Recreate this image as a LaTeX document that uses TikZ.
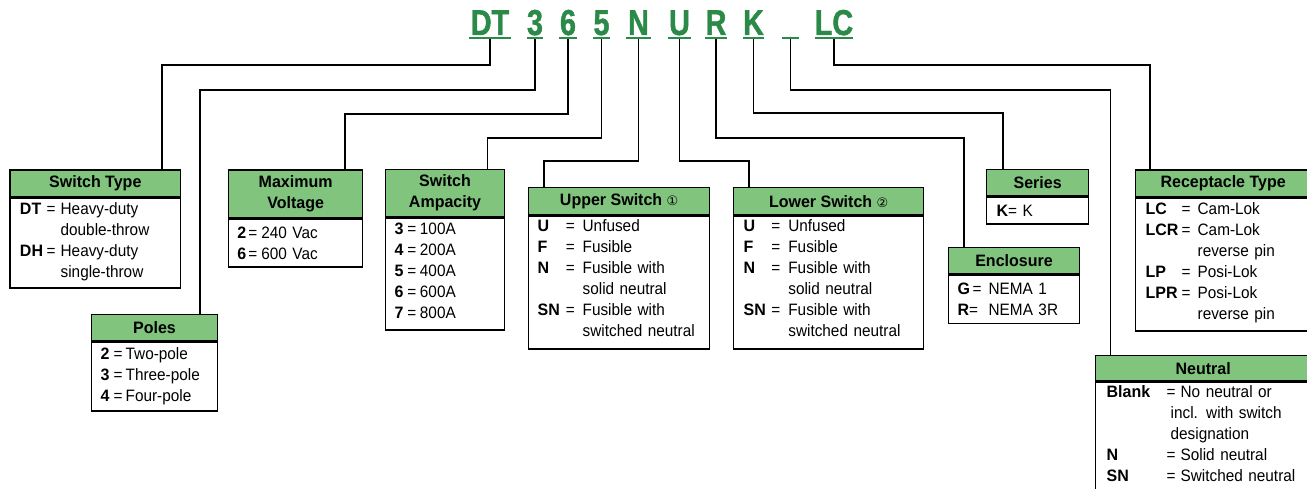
\documentclass[tikz,border=0pt]{standalone}
\usepackage{fontspec}
\setmainfont{Liberation Sans}[FakeStretch=0.93, BoldFeatures={FakeStretch=0.97}]
\newfontfamily\codef{Liberation Sans}[FakeStretch=0.8, FakeBold=1.2]
\newfontfamily\symf{DejaVu Sans}
\definecolor{codegreen}{HTML}{2B8A47}
\definecolor{hdrgreen}{HTML}{80C47E}
\newcommand\krow[3]{\makebox[#1][l]{\bfseries #3}\makebox[#2][l]{=}}
\begin{document}
\begin{tikzpicture}[x=1pt,y=-1pt,
  code/.style={font=\codef\bfseries\fontsize{36}{36}\selectfont, text=codegreen,
    inner xsep=0pt, inner ysep=3pt, text height=26pt, text depth=0pt, anchor=base},
  uline/.style={draw=codegreen, line width=2pt},
  conn/.style={draw=black, line width=1.8pt},
  hdr/.style={draw=black, line width=1.3pt, fill=hdrgreen, anchor=north west,
    inner sep=0pt, align=center, font=\bfseries\fontsize{16.5}{21}\selectfont},
  bod/.style={draw=black, line width=1.3pt, anchor=north west, inner ysep=0pt,
    align=left, font=\fontsize{16.5}{21}\selectfont},
]
\useasboundingbox (0,0) rectangle (1307,489);
\clip (0,0) rectangle (1307,489);

% code letters
\node[code, minimum width=42pt] (cDT) at (490,35) {DT};
\node[code, minimum width=16pt] (c3) at (535,35) {3};
\node[code, minimum width=18pt] (c6) at (568,35) {6};
\node[code, minimum width=17pt] (c5) at (601.5,35) {5};
\node[code, minimum width=25pt] (cN) at (638.5,35) {N};
\node[code, minimum width=23pt] (cU) at (679.5,35) {U};
\node[code, minimum width=18pt] (cR) at (716,35) {R};
\node[code, minimum width=19pt] (cK) at (753.5,35) {K};
\node[code, minimum width=17pt] (cB) at (790.5,35) {};
\node[code, minimum width=38pt] (cLC) at (834,35) {LC};

% boxes
\node[hdr, minimum width=170.7pt, minimum height=26.7pt] (stype) at (9.3,169.3) {Switch Type};
\node[bod, minimum width=170.7pt, minimum height=90pt, text width=150.7pt, inner xsep=10pt] (stypeB) at (stype.south west)
 {\krow{26.7pt}{14pt}{DT}Heavy-duty\\\hspace*{40.7pt}double-throw\\\krow{26.7pt}{14pt}{DH}Heavy-duty\\\hspace*{40.7pt}single-throw\strut};

\node[hdr, minimum width=134pt, minimum height=47.7pt] (maxv) at (228,169.3) {Maximum\\Voltage};
\node[bod, minimum width=134pt, minimum height=48pt, text width=116.6pt, inner xsep=8.7pt] (maxvB) at (maxv.south west)
 {\krow{11pt}{13pt}{2}240 Vac\\\krow{11pt}{13pt}{6}600 Vac};

\node[hdr, minimum width=126.3pt, minimum height=26.3pt] (poles) at (90.7,313.7) {Poles};
\node[bod, minimum width=126.3pt, minimum height=69pt, text width=107.7pt, inner xsep=9.3pt] (polesB) at (poles.south west)
 {\krow{13pt}{12pt}{2}Two-pole\\\krow{13pt}{12pt}{3}Three-pole\\\krow{13pt}{12pt}{4}Four-pole};

\node[hdr, minimum width=118.7pt, minimum height=47pt] (amp) at (385,169) {Switch\\Ampacity};
\node[bod, minimum width=118.7pt, minimum height=112pt, text width=100.7pt, inner xsep=9pt] (ampB) at (amp.south west)
 {\krow{12.7pt}{12.6pt}{3}100A\\\krow{12.7pt}{12.6pt}{4}200A\\\krow{12.7pt}{12.6pt}{5}400A\\\krow{12.7pt}{12.6pt}{6}600A\\\krow{12.7pt}{12.6pt}{7}800A\strut};

\node[hdr, minimum width=181pt, minimum height=27.3pt] (upper) at (528,186.7) {Upper Switch {\symf\mdseries\fontsize{13}{13}\selectfont ①}};
\node[bod, minimum width=181pt, minimum height=133pt, text width=163pt, inner xsep=9pt] (upperB) at (upper.south west)
 {\krow{28.3pt}{16.7pt}{U}Unfused\\\krow{28.3pt}{16.7pt}{F}Fusible\\\krow{28.3pt}{16.7pt}{N}Fusible with\\\hspace*{45pt}solid neutral\\\krow{28.3pt}{16.7pt}{SN}Fusible with\\\hspace*{45pt}switched neutral\rule[-9pt]{0pt}{9pt}};

\node[hdr, minimum width=190pt, minimum height=27pt] (lower) at (733,187) {Lower Switch {\symf\mdseries\fontsize{13}{13}\selectfont ②}};
\node[bod, minimum width=190pt, minimum height=133pt, text width=170pt, inner xsep=10pt] (lowerB) at (lower.south west)
 {\krow{27.7pt}{17pt}{U}Unfused\\\krow{27.7pt}{17pt}{F}Fusible\\\krow{27.7pt}{17pt}{N}Fusible with\\\hspace*{44.7pt}solid neutral\\\krow{27.7pt}{17pt}{SN}Fusible with\\\hspace*{44.7pt}switched neutral\rule[-9pt]{0pt}{9pt}};

\node[hdr, minimum width=102pt, minimum height=26pt] (series) at (986,169) {Series};
\node[bod, minimum width=102pt, minimum height=27pt, text width=82pt, inner xsep=10pt] (seriesB) at (series.south west)
 {\textbf{K}= K};

\node[hdr, minimum width=131.3pt, minimum height=26.3pt] (encl) at (947.7,246.7) {Enclosure};
\node[bod, minimum width=131.3pt, minimum height=48.7pt, text width=112.7pt, inner xsep=9.3pt] (enclB) at (encl.south west)
 {\makebox[15pt][l]{\bfseries G}\makebox[16pt][l]{=}NEMA 1\\\makebox[31pt][l]{\textbf{R}=}NEMA 3R};

\node[hdr, minimum width=175pt, minimum height=26.7pt] (recep) at (1135,169.3) {Receptacle Type};
\node[bod, minimum width=175pt, minimum height=133pt, text width=155pt, inner xsep=10pt] (recepB) at (recep.south west)
 {\krow{36pt}{16pt}{LC}Cam-Lok\\\krow{36pt}{16pt}{LCR}Cam-Lok\\\hspace*{52pt}reverse pin\\\krow{36pt}{16pt}{LP}Posi-Lok\\\krow{36pt}{16pt}{LPR}Posi-Lok\\\hspace*{52pt}reverse pin\strut};

\node[hdr, minimum width=215pt, minimum height=25pt] (neutral) at (1095,355) {Neutral};
\node[bod, minimum width=215pt, minimum height=112pt, text width=193pt, inner xsep=11pt] (neutralB) at (neutral.south west)
 {\krow{60pt}{14pt}{Blank}No neutral or\\\hspace*{64pt}incl. with switch\\\hspace*{64pt}designation\\\krow{60pt}{14pt}{N}Solid neutral\\\krow{60pt}{14pt}{SN}Switched neutral\rule[-8pt]{0pt}{8pt}};

% connectors
\draw[conn] (cDT.south) |- (162,65) -- (162,0 |- stype.north);
\draw[conn] (c3.south) |- (200,90) -- (200,0 |- poles.north);
\draw[conn] (c6.south) |- (345,114) -- (345,0 |- maxv.north);
\draw[conn] (c5.south) |- (487.5,138) -- (487.5,0 |- amp.north);
\draw[conn] (cN.south) |- (544,161) -- (544,0 |- upper.north);
\draw[conn] (cU.south) |- (749,161) -- (749,0 |- lower.north);
\draw[conn] (cR.south) |- (964,138) -- (964,0 |- encl.north);
\draw[conn] (cK.south) |- (1003,113) -- (1003,0 |- series.north);
\draw[conn] (cB.south) |- (1110.5,90) -- (1110.5,0 |- neutral.north);
\draw[conn] (cLC.south) |- (1150,65) -- (1150,0 |- recep.north);

% underlines
\foreach \n in {cDT,c3,c6,c5,cN,cU,cR,cK,cB,cLC}
  \draw[uline] (\n.south west) -- (\n.south east);
\end{tikzpicture}
\end{document}
